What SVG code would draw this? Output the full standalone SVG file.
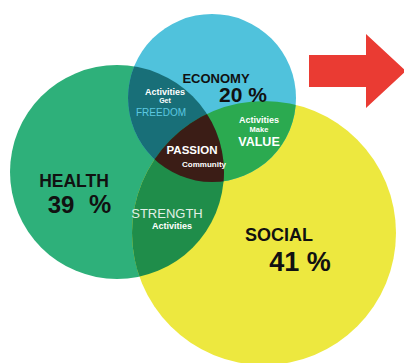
<svg xmlns="http://www.w3.org/2000/svg" width="404" height="363" viewBox="0 0 404 363">
  <style>
    text { font-family: "Liberation Sans", Arial, sans-serif; font-weight: bold; text-anchor: middle; }
    .dark { fill: #111111; }
    .light { fill: #ffffff; }
    .thin { font-weight: normal; }
  </style>
  <defs>
    <clipPath id="clip-eco"><circle cx="212" cy="98" r="84"/></clipPath>
    <clipPath id="clip-health"><circle cx="117" cy="172" r="107"/></clipPath>
    <clipPath id="clip-social"><circle cx="264" cy="233" r="132"/></clipPath>
  </defs>
  <rect width="404" height="363" fill="#ffffff"/>

  <!-- three base circles -->
  <g id="health">
    <circle cx="117" cy="172" r="107" fill="#2EB07A"/>
  </g>
  <g id="social">
    <circle cx="264" cy="233" r="132" fill="#EDE83F"/>
  </g>
  <g id="economy">
    <circle cx="212" cy="98" r="84" fill="#50C2DC"/>
  </g>

  <!-- overlaps -->
  <g id="freedom">
    <circle cx="117" cy="172" r="107" fill="#186F78" clip-path="url(#clip-eco)"/>
  </g>
  <g id="value">
    <circle cx="264" cy="233" r="132" fill="#2BAA50" clip-path="url(#clip-eco)"/>
  </g>
  <g id="strength">
    <circle cx="264" cy="233" r="132" fill="#1F8D4A" clip-path="url(#clip-health)"/>
  </g>
  <g id="passion">
    <g clip-path="url(#clip-eco)">
      <circle cx="264" cy="233" r="132" fill="#3B1D16" clip-path="url(#clip-health)"/>
    </g>
  </g>

  <!-- labels -->
  <g id="labels">
    <text class="dark" x="216" y="83" font-size="13">ECONOMY</text>
    <text class="dark" x="243" y="102" font-size="21">20 %</text>

    <text class="light" x="165" y="94.5" font-size="9">Activities</text>
    <text class="light" x="165" y="103" font-size="7">Get</text>
    <text class="thin" x="161" y="116" font-size="10" fill="#5CC8E0">FREEDOM</text>

    <text class="light" x="259" y="123" font-size="9">Activities</text>
    <text class="light" x="259" y="132" font-size="7.5">Make</text>
    <text class="light" x="259" y="146" font-size="12.5">VALUE</text>

    <text class="light" x="192" y="154" font-size="11.5">PASSION</text>
    <text class="light" x="204" y="167" font-size="8">Community</text>

    <text class="dark" x="74" y="187" font-size="17.5">HEALTH</text>
    <text class="dark" y="213" font-size="24" text-anchor="start"><tspan x="61">39</tspan><tspan x="100" font-size="25">%</tspan></text>

    <text class="thin" x="167" y="218" font-size="13" fill="#E2F0E6">STRENGTH</text>
    <text class="light" x="172" y="229" font-size="9">Activities</text>

    <text class="dark" x="279" y="241" font-size="18">SOCIAL</text>
    <text class="dark" x="300" y="271" font-size="27">41 %</text>
  </g>

  <!-- red arrow pointing right -->
  <g id="arrow">
    <polygon points="309,55 366,55 366,34 406,71 366,108 366,87 309,87" fill="#EA3B33"/>
  </g>
</svg>
